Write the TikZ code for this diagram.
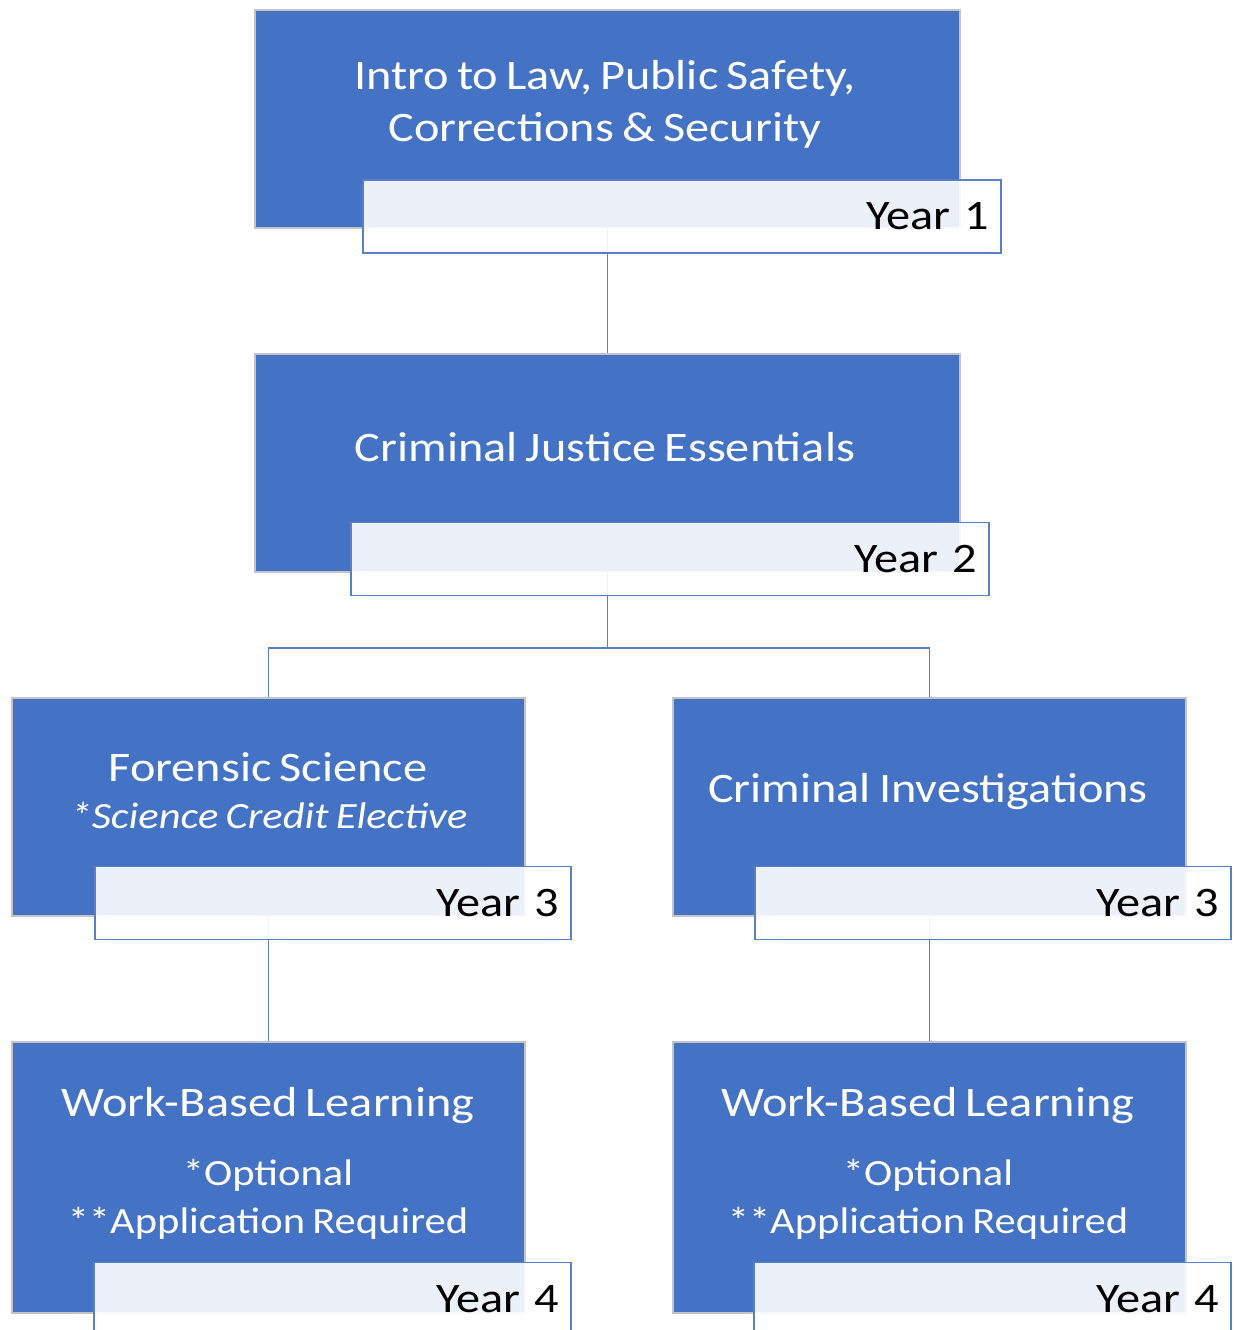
\documentclass[tikz,border=0pt]{standalone}
\usepackage{fontspec}
\setmainfont{Carlito}[FakeStretch=1.15, WordSpace=0.75]
\usepackage{tikz}

\definecolor{boxblue}{HTML}{4472C4}
\definecolor{boxline}{HTML}{C4C4C4}
\definecolor{tabline}{HTML}{5B7FC6}

\begin{document}
\begin{tikzpicture}[x=1pt,y=-1pt,
	course/.style={draw=boxline, line width=1.5pt, fill=boxblue, inner sep=0pt, minimum height=218pt},
	yeartab/.style={draw=tabline, line width=1.5pt, fill=white, fill opacity=0.9, text opacity=1,
		minimum height=73pt, inner xsep=12pt, align=right, font=\fontsize{42}{50}\selectfont},
	title/.style={text=white, align=center, font=\fontsize{42}{52}\selectfont},
	note/.style={text=white, align=center, font=\fontsize{37}{48}\selectfont},
	link/.style={draw=tabline, line width=1.5pt}]
	%\draw[help lines] (0,0) grid[step=100] (1235,1330);
	\useasboundingbox (0,0) rectangle (1235,1330);
	% course boxes
	\node[course, minimum width=705pt] (intro) at (607.5,119) {};
	\node[course, minimum width=705pt] (cje) at (607.5,463) {};
	\node[course, minimum width=513pt] (fs) at (268.5,807) {};
	\node[course, minimum width=513pt] (ci) at (929.5,807) {};
	\node[course, minimum width=513pt, minimum height=271pt] (wbl1) at (268.5,1177.5) {};
	\node[course, minimum width=513pt, minimum height=271pt] (wbl2) at (929.5,1177.5) {};
	% connectors
	\coordinate (split) at (607.5,648);
	\draw[link] (intro.south) -- (cje.north);
	\draw[link] (cje.south) -- (split) -| (fs.north);
	\draw[link] (split) -| (ci.north);
	\draw[link] (fs.south) -- (wbl1.north);
	\draw[link] (ci.south) -- (wbl2.north);
	% titles
	\node[title] (t1) at (605,104) {Intro to Law, Public Safety,\\Corrections \& Security};
	\node[title] (t2) at (605,447) {Criminal Justice Essentials};
	\node[title] (t3) at (268,767) {Forensic Science};
	\node[note] (n3) at (269,815) {\itshape *Science Credit Elective};
	\node[title] (t4) at (928,792) {Criminal Investigations};
	\node[title] (t5) at (268,1106) {Work-Based Learning};
	\node[note] (n5) at (268,1199) {*Optional\\**Application Required};
	\node[title] (t6) at (928,1106) {Work-Based Learning};
	\node[note] (n6) at (928,1199) {*Optional\\**Application Required};
	% year tabs
	\node[yeartab, text width=614pt] (y1) at (682,216.5) {Year 1};
	\node[yeartab, text width=614pt] (y2) at (670,559) {Year 2};
	\node[yeartab, text width=452pt] (y3a) at (333,903) {Year 3};
	\node[yeartab, text width=452pt] (y3b) at (993,903) {Year 3};
	\node[yeartab, text width=453pt] (y4a) at (332.5,1299) {Year 4};
	\node[yeartab, text width=453pt] (y4b) at (992.5,1299) {Year 4};
\end{tikzpicture}
\end{document}
